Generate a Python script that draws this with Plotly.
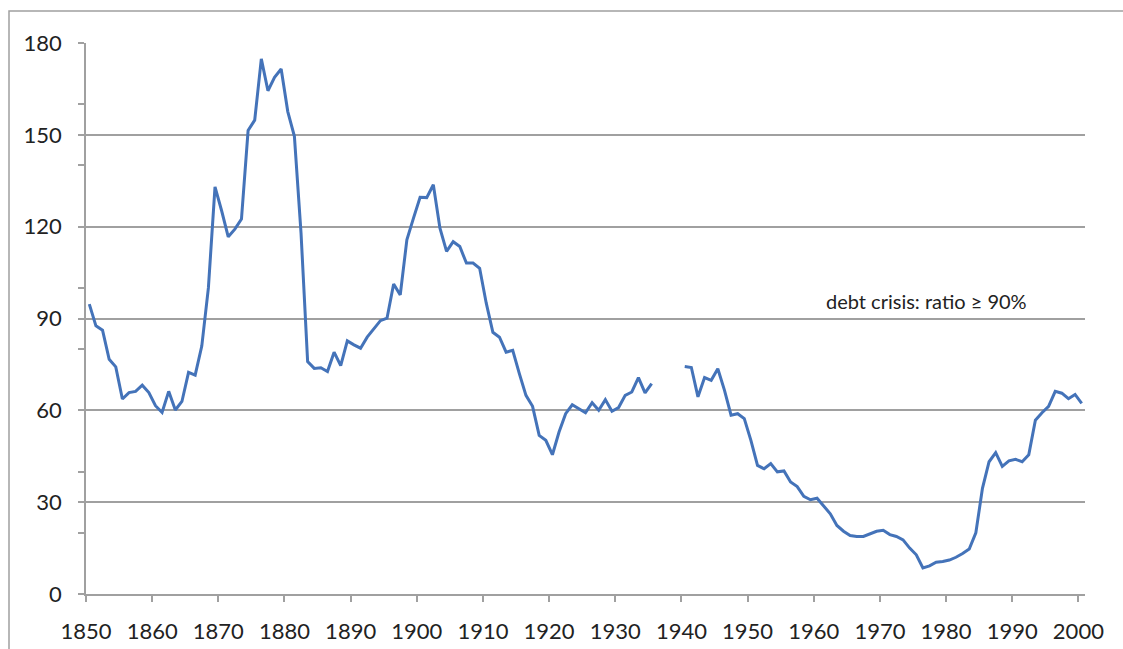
import plotly.graph_objects as go

# Years (categories) and debt ratio values
years = list(range(1850, 2001))

ratio_1850s = [94.7, 87.6, 86.2, 76.7, 74.2, 63.7, 65.8, 66.2, 68.2, 65.8]
ratio_1860s = [61.5, 59.3, 66.2, 60.1, 62.9, 72.4, 71.5, 81.0, 100.0, 133.0]
ratio_1870s = [125.2, 116.7, 119.2, 122.5, 151.4, 154.8, 174.8, 164.4, 168.8, 171.5]
ratio_1880s = [157.6, 149.5, 118.0, 75.9, 73.7, 73.9, 72.7, 79.0, 74.6, 82.7]
ratio_1890s = [81.4, 80.3, 83.9, 86.8, 89.3, 90.1, 101.3, 97.7, 115.7, 122.8]
ratio_1900s = [129.6, 129.5, 133.7, 119.5, 111.9, 115.1, 113.5, 108.1, 108.1, 106.4]
ratio_1910s = [95.0, 85.5, 83.9, 79.0, 79.6, 72.0, 64.9, 61.3, 51.8, 50.2]
ratio_1920s = [45.5, 52.9, 58.9, 61.8, 60.5, 59.2, 62.5, 60.0, 63.5, 59.7]
ratio_1930s = [60.9, 64.9, 66.0, 70.7, 65.7, 68.7, None, None, None, None]
ratio_1940s = [74.3, 74.0, 64.4, 70.7, 69.8, 73.6, 66.6, 58.4, 58.9, 57.3]
ratio_1950s = [50.2, 42.0, 40.9, 42.6, 39.9, 40.2, 36.6, 35.1, 31.9, 30.8]
ratio_1960s = [31.3, 28.6, 26.2, 22.4, 20.5, 19.1, 18.8, 18.8, 19.7, 20.5]
ratio_1970s = [20.8, 19.4, 18.8, 17.7, 15.0, 12.8, 8.5, 9.2, 10.4, 10.6]
ratio_1980s = [11.1, 12.0, 13.2, 14.7, 20.0, 34.5, 43.2, 46.2, 41.7, 43.5]
ratio_1990s = [44.0, 43.2, 45.5, 56.8, 59.2, 61.3, 66.2, 65.6, 63.8, 65.2]
ratio_2000s = [62.3]

debt_ratio = (ratio_1850s + ratio_1860s + ratio_1870s + ratio_1880s + ratio_1890s
              + ratio_1900s + ratio_1910s + ratio_1920s + ratio_1930s + ratio_1940s
              + ratio_1950s + ratio_1960s + ratio_1970s + ratio_1980s + ratio_1990s
              + ratio_2000s)
assert len(debt_ratio) == len(years)

x_tick_labels = ["1850", "1860", "1870", "1880", "1890", "1900", "1910", "1920",
                 "1930", "1940", "1950", "1960", "1970", "1980", "1990", "2000"]
y_tick_values = [0, 30, 60, 90, 120, 150, 180]
y_minor_ticks = [20, 40, 80, 100, 140, 160]
annotation_text = "debt crisis: ratio \u2265 90%"

GRID = "#a0a0a0"
FONT = "Lato, 'Open Sans', sans-serif"
TEXT = "#222222"

W, H = 1123, 649
L, R, T, B = 86, 38, 43, 55
PW, PH = W - L - R, H - T - B

# category-style axis: tick marks sit on category boundaries
x_tick_positions = [int(t) - 0.5 for t in x_tick_labels]

fig = go.Figure()
fig.add_trace(go.Scatter(
    x=years, y=debt_ratio, mode="lines",
    line=dict(color="#4473b9", width=3),
    connectgaps=False, hoverinfo="x+y", showlegend=False,
))

fig.update_layout(
    width=W, height=H, autosize=False,
    margin=dict(l=L, r=R, t=T, b=B, pad=0, autoexpand=False),
    paper_bgcolor="white", plot_bgcolor="white",
    font=dict(family=FONT, size=22, color=TEXT),
    showlegend=False,
    xaxis=dict(
        range=[years[0] - 0.5, years[-1] + 0.5],
        tickmode="array", tickvals=x_tick_positions, ticktext=x_tick_labels,
        ticks="outside", ticklen=6, tickwidth=1.5, tickcolor=GRID,
        showgrid=False, zeroline=False, automargin=False,
        showline=True, linecolor=GRID, linewidth=1.5,
        tickfont=dict(family=FONT, size=22, color=TEXT),
        ticklabelstandoff=11,
    ),
    yaxis=dict(
        range=[0, 180],
        tickmode="array", tickvals=y_tick_values,
        ticks="outside", ticklen=6, tickwidth=1.5, tickcolor=GRID,
        showgrid=True, gridcolor=GRID, gridwidth=1.5,
        zeroline=False, automargin=False,
        showline=True, linecolor=GRID, linewidth=1.5,
        tickfont=dict(family=FONT, size=22, color=TEXT),
        ticklabelstandoff=12,
        minor=dict(tickmode="array", tickvals=y_minor_ticks, ticks="outside",
                   ticklen=6, tickwidth=1.5, tickcolor=GRID, showgrid=False),
    ),
    annotations=[dict(
        text=annotation_text, xref="x", yref="y",
        x=1992, y=90, xanchor="right", yanchor="bottom", yshift=4,
        showarrow=False, font=dict(family=FONT, size=20, color=TEXT),
    )],
    shapes=[dict(
        type="rect", xref="paper", yref="paper",
        x0=(9 - L) / PW, x1=1.2, y0=-0.3, y1=(H - B - 11) / PH,
        line=dict(color="#a0a0a0", width=1.5), fillcolor="rgba(0,0,0,0)",
        layer="below",
    )],
)

fig.write_html(
    "out.html",
    config={"displayModeBar": False},
    post_script="document.body.style.margin='0';document.body.style.overflow='hidden';",
)
